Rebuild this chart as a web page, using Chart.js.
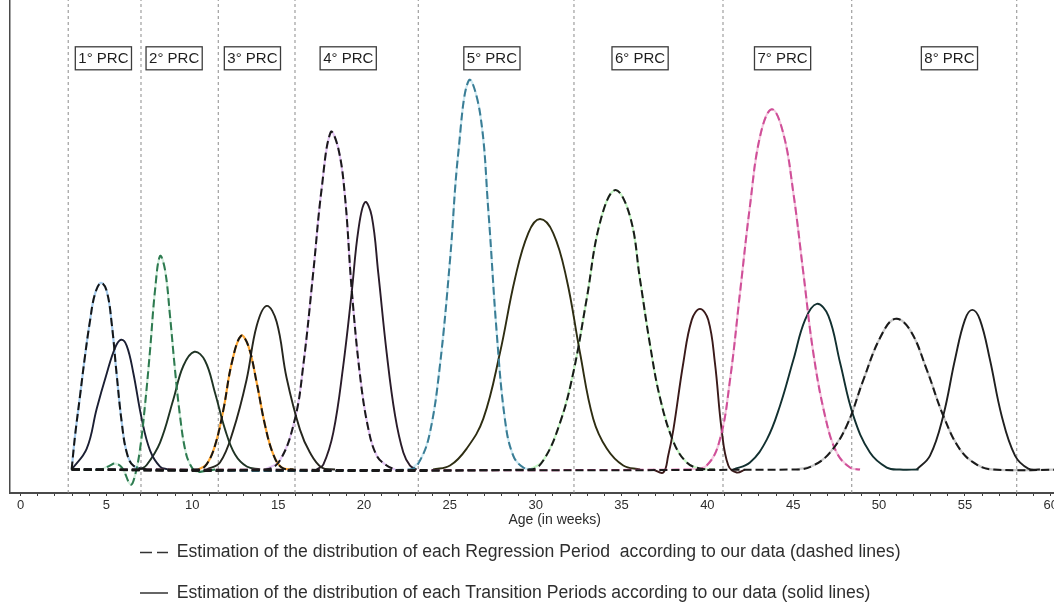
<!DOCTYPE html>
<html>
<head>
<meta charset="utf-8">
<script src="https://cdn.jsdelivr.net/npm/chart.js@4.4.1/dist/chart.umd.min.js"></script>
<style>
html,body{margin:0;padding:0;background:#fff}
#wrap{width:1054px;height:602px;position:relative}
</style>
</head>
<body>
<div id="wrap"><canvas id="c"></canvas></div>
<script>
// ---- Data (age in weeks, estimated density) ----
const reg1 = [[2.97,0],[3.17,0.034],[3.46,0.074],[3.75,0.114],[4.04,0.149],[4.33,0.176],[4.68,0.187],[5.01,0.179],[5.30,0.147],[5.60,0.094],[5.89,0.047],[6.18,0.017],[6.56,0.004],[7.34,0]];
const reg2 = [[2.97,0],[4.70,0],[5.20,0.004],[5.50,0.006],[5.90,0.002],[6.41,-0.015],[6.66,-0.006],[6.95,0.020],[7.24,0.064],[7.54,0.120],[7.83,0.180],[8.12,0.214],[8.41,0.200],[8.70,0.154],[8.99,0.100],[9.28,0.054],[9.58,0.020],[9.87,0.005],[10.22,-0.002],[10.74,-0.0015],[11.32,0]];
const reg3 = [[2.97,0],[10.35,0],[10.84,0.0055],[11.32,0.024],[11.81,0.060],[12.30,0.107],[12.84,0.134],[13.26,0.124],[13.75,0.087],[14.24,0.044],[14.72,0.015],[15.21,0.002],[15.89,0]];
const reg4 = [[2.97,0],[14.23,0],[15.10,0.009],[15.98,0.051],[16.46,0.104],[17.04,0.197],[17.53,0.281],[18.06,0.338],[18.50,0.322],[18.89,0.274],[19.28,0.181],[19.77,0.094],[20.25,0.041],[20.74,0.014],[21.32,0.004],[21.81,0]];
const reg5 = [[2.97,0],[22.68,0],[23.26,0.009],[23.84,0.037],[24.42,0.104],[25.01,0.210],[25.49,0.317],[26.11,0.390],[26.76,0.357],[27.24,0.260],[27.73,0.137],[28.21,0.050],[28.69,0.014],[29.28,0.002],[29.86,0]];
const reg6 = [[2.97,0],[29.67,0],[30.44,0.009],[31.42,0.047],[32.19,0.097],[32.97,0.171],[33.74,0.247],[34.62,0.280],[35.49,0.254],[36.08,0.190],[36.66,0.125],[37.24,0.072],[38.02,0.028],[38.80,0.007],[39.57,0.001],[40.44,0]];
const reg7 = [[2.97,0],[38.99,0],[39.96,0.004],[40.73,0.030],[41.32,0.090],[41.90,0.177],[42.48,0.264],[43.07,0.334],[43.75,0.361],[44.42,0.337],[45.01,0.277],[45.59,0.197],[46.17,0.117],[46.85,0.054],[47.53,0.017],[48.31,0.002],[48.89,0]];
const reg8 = [[2.97,0],[45.20,0],[46.17,0.004],[47.14,0.017],[48.12,0.044],[49.09,0.090],[50.06,0.132],[50.93,0.151],[51.80,0.140],[52.78,0.100],[53.74,0.054],[54.72,0.020],[55.69,0.005],[56.66,0],[61,0]];

const tra1 = [[2.97,0],[3.85,0.021],[4.43,0.061],[5.01,0.096],[5.50,0.122],[5.85,0.130],[6.18,0.124],[6.56,0.097],[7.05,0.051],[7.54,0.019],[8.12,0.003],[8.60,0]];
const tra2 = [[6.95,0],[7.34,0.0045],[8.12,0.027],[8.89,0.070],[9.48,0.104],[10.12,0.118],[10.74,0.109],[11.32,0.077],[11.91,0.040],[12.49,0.015],[13.17,0.003],[13.95,0]];
const tra3 = [[10.83,0],[11.61,0.007],[12.38,0.039],[13.16,0.090],[13.75,0.144],[14.33,0.164],[14.91,0.148],[15.49,0.092],[16.27,0.040],[16.85,0.017],[17.53,0.002],[18.31,0]];
const tra4 = [[17.24,0],[17.63,0.005],[18.21,0.037],[18.79,0.104],[19.28,0.177],[19.67,0.240],[20.06,0.268],[20.45,0.254],[20.83,0.197],[21.32,0.117],[21.81,0.054],[22.29,0.017],[22.68,0.004],[23.07,0]];
const tra5 = [[24.03,0],[25.01,0.004],[25.98,0.021],[26.95,0.051],[27.92,0.117],[28.79,0.191],[29.57,0.237],[30.25,0.251],[31.02,0.237],[31.80,0.191],[32.58,0.117],[33.35,0.051],[34.14,0.021],[35.10,0.004],[36.08,0]];
const tra6 = [[36.85,0],[37.43,-0.003],[37.72,0.014],[38.02,0.040],[38.60,0.107],[39.09,0.150],[39.57,0.161],[40.05,0.150],[40.44,0.107],[40.83,0.040],[41.22,0.004],[41.71,-0.003],[42.19,0]];
const tra7 = [[41.51,0],[42.48,0.007],[43.46,0.030],[44.23,0.064],[45.01,0.110],[45.69,0.150],[46.37,0.166],[47.05,0.154],[47.73,0.107],[48.50,0.054],[49.47,0.017],[50.45,0.002],[51.22,0],[52.30,0]];
const tra8 = [[52.19,0],[52.97,0.014],[53.74,0.054],[54.42,0.110],[55.00,0.150],[55.43,0.160],[55.88,0.150],[56.46,0.110],[57.14,0.054],[57.92,0.014],[58.69,0.001],[59.37,0]];

const separatorWeeks = [2.77, 7.01, 11.51, 15.98, 23.16, 32.23, 40.91, 48.41, 58.02];
const prcLabels = ['1° PRC','2° PRC','3° PRC','4° PRC','5° PRC','6° PRC','7° PRC','8° PRC'];
const prcWeeks = [4.82, 8.94, 13.50, 19.08, 27.45, 36.08, 44.38, 54.10];
const tickLabels = [0,5,10,15,20,25,30,35,40,45,50,55,60];
const minorTicks = [0,1,2,3,4,5,6,7,8,9,10,11,12,13,14,15,16,17,18,19,20,21,22,23,24,25,26,27,28,29,30,31,32,33,34,35,36,37,38,39,40,41,42,43,44,45,46,47,48,49,50,51,52,53,54,55,56,57,58,59,60];
const xTitle = 'Age (in weeks)';
const legendTexts = [
  'Estimation of the distribution of each Regression Period  according to our data (dashed lines)',
  'Estimation of the distribution of each Transition Periods according to our data (solid lines)'
];

// ---- Styles ----
const X_MIN = -0.62, X_MAX = 60.19, Y_MIN = -0.0235, Y_MAX = 0.4705;
const regCurves = [reg1, reg2, reg3, reg4, reg5, reg6, reg7, reg8];
const traCurves = [tra1, tra2, tra3, tra4, tra5, tra6, tra7, tra8];
const regUnder = ['#a8cdee', '#d6efdf', '#ffa733', '#e4c6f4', '#cfeaf3', '#c6f6c6', '#f4c7df', '#c8c8c8'];
const regDash  = ['#161616', '#2e7a50', '#161616', '#1a1a1a', '#3a7d95', '#1a1a1a', '#cf4f98', '#1a1a1a'];
const regDashOrder = [0, 0.5, 0, 0, 0.5, 0, 0.5, 0];
const traColor = ['#1b1f33', '#1f3424', '#26261e', '#2a1c2a', '#2e2d12', '#3a1a1a', '#123030', '#202020'];

const toXY = a => a.map(p => ({x: p[0], y: p[1]}));
const bumpPart = a => { let i = 0; while (i + 1 < a.length && a[i + 1][1] === 0) i++; return a.slice(i); };
const common = {pointRadius: 0, pointHoverRadius: 0, fill: false, cubicInterpolationMode: 'default', tension: 0.4};

const datasets = [];
regCurves.forEach((c, i) => {
  datasets.push(Object.assign({label: 'Regression ' + (i + 1), data: toXY(c), borderColor: regDash[i], borderWidth: 2, borderDash: [8, 4], order: regDashOrder[i]}, common));
  datasets.push(Object.assign({label: 'Regression ' + (i + 1) + ' base', data: toXY(bumpPart(c)), borderColor: regUnder[i], borderWidth: 2.2, order: 2}, common));
});
traCurves.forEach((c, i) => {
  datasets.push(Object.assign({label: 'Transition ' + (i + 1), data: toXY(c), borderColor: traColor[i], borderWidth: 1.9, order: 1}, common));
});
separatorWeeks.forEach((s, i) => {
  datasets.push({label: 'sep' + i, data: [{x: s, y: Y_MIN}, {x: s, y: Y_MAX}], borderColor: '#8c8c8c', borderWidth: 1, borderDash: [3, 3], pointRadius: 0, tension: 0, order: 3, fill: false});
});

const overlay = {
  id: 'overlay',
  afterLayout(chart) {
    const lg = chart.legend;
    if (!lg) return;
    lg.left = 117.1; lg.right = 1054; lg.width = lg.right - lg.left;
    lg.top = 520.8; lg.bottom = 602; lg.height = lg.bottom - lg.top;
  },
  afterDatasetsDraw(chart) {
    const ctx = chart.ctx, xs = chart.scales.x;
    ctx.save();
    ctx.font = '15px "Liberation Sans", Arial, sans-serif';
    ctx.textAlign = 'center';
    ctx.textBaseline = 'middle';
    prcLabels.forEach((t, i) => {
      const cx = xs.getPixelForValue(prcWeeks[i]);
      const w = ctx.measureText(t).width + 6;
      const h = 23, cy = 58.3;
      ctx.fillStyle = '#ffffff';
      ctx.fillRect(cx - w / 2, cy - h / 2, w, h);
      ctx.strokeStyle = '#3c3c3c';
      ctx.lineWidth = 1.3;
      ctx.strokeRect(cx - w / 2, cy - h / 2, w, h);
      ctx.fillStyle = '#1e1e1e';
      ctx.fillText(t, cx, cy + 0.5);
    });
    ctx.restore();
  },
  afterDraw(chart) {
    const ctx = chart.ctx, a = chart.chartArea;
    ctx.save();
    ctx.font = '14px "Liberation Sans", Arial, sans-serif';
    ctx.fillStyle = '#2a2a2a';
    ctx.textAlign = 'center';
    ctx.textBaseline = 'middle';
    ctx.fillText(xTitle, (a.left + a.right) / 2 + 22.7, 520);
    ctx.restore();
  }
};

new Chart(document.getElementById('c'), {
  type: 'line',
  data: {datasets},
  plugins: [overlay],
  options: {
    responsive: true,
    maintainAspectRatio: false,
    animation: false,
    devicePixelRatio: 1,
    events: [],
    layout: {padding: {left: 10, right: 0, top: 0, bottom: 0}},
    scales: {
      x: {
        type: 'linear', min: X_MIN, max: X_MAX,
        afterBuildTicks: s => { s.ticks = minorTicks.map(v => ({value: v})); },
        afterFit: s => { s.paddingLeft = 0; s.paddingRight = 0; },
        ticks: {
          autoSkip: false, maxRotation: 0, minRotation: 0, padding: 2,
          color: '#2e2e2e', font: {family: '"Liberation Sans", Arial, sans-serif', size: 13},
          callback: v => tickLabels.includes(v) ? String(v) : ''
        },
        grid: {display: true, drawOnChartArea: false, drawTicks: true, tickLength: 3, color: '#3c3c3c', lineWidth: 1},
        border: {display: true, color: '#4a4a4a', width: 2},
        title: {display: false}
      },
      y: {
        type: 'linear', min: Y_MIN, max: Y_MAX,
        ticks: {display: false},
        grid: {display: false, drawTicks: false},
        border: {display: true, color: '#4a4a4a', width: 1.5}
      }
    },
    plugins: {
      tooltip: {enabled: false},
      title: {display: false},
      legend: {
        display: true, position: 'bottom', align: 'start', maxHeight: 86.4,
        onClick: () => {},
        labels: {
          usePointStyle: true, pointStyleWidth: 28, padding: 22.9,
          color: '#2e2e2e', font: {family: '"Liberation Sans", Arial, sans-serif', size: 17.6},
          generateLabels: () => legendTexts.map((t, i) => ({
            text: t, strokeStyle: '#333333', fillStyle: '#333333', fontColor: '#2e2e2e',
            lineWidth: 1.6, lineDash: i === 0 ? [12, 5] : [], pointStyle: 'line', hidden: false, datasetIndex: i
          }))
        }
      }
    }
  }
});
</script>
</body>
</html>
